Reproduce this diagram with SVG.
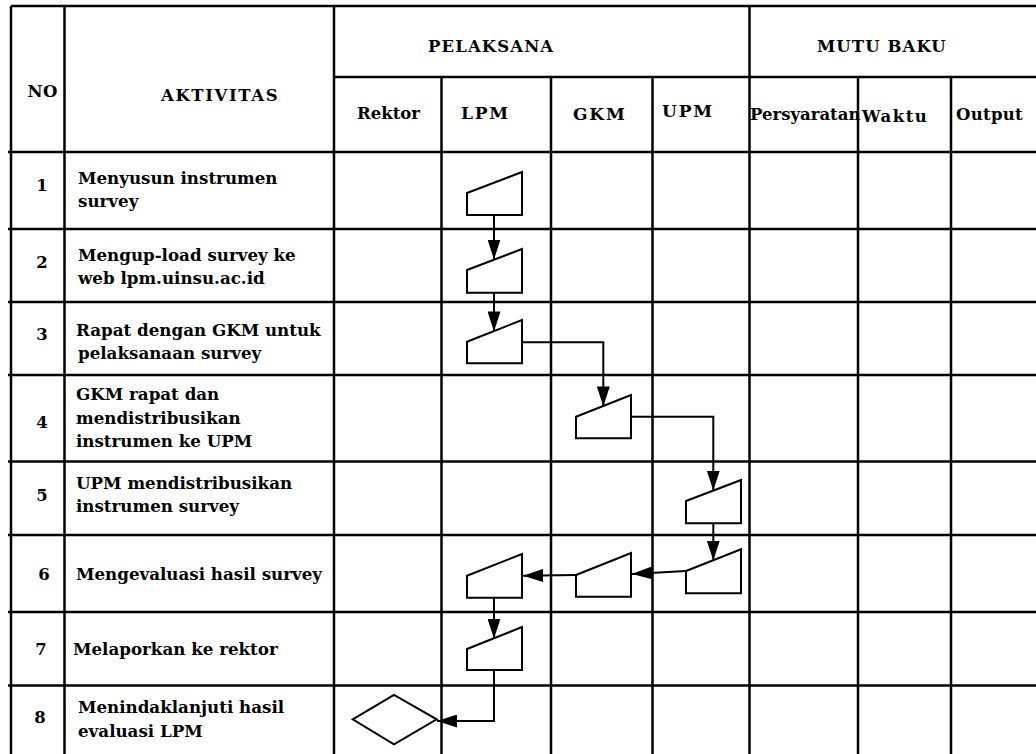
<svg xmlns="http://www.w3.org/2000/svg" width="1036" height="754" viewBox="0 0 1036 754">
<defs>
<marker id="ah" markerUnits="userSpaceOnUse" markerWidth="20" markerHeight="13" refX="20" refY="6.5" orient="auto" viewBox="0 0 20 13">
<path d="M0,0 L20,6.5 L0,13 Z" fill="#000"/>
</marker>
<style>
.g{stroke:#000;stroke-width:2.5;fill:none}
.s{stroke:#000;stroke-width:2;fill:#fff;stroke-linejoin:miter}
.c{stroke:#000;stroke-width:2;fill:none;marker-end:url(#ah)}
text{font-family:"DejaVu Serif","Liberation Serif",serif;font-weight:bold;fill:#000}
.h{font-size:16.5px}
.hl{font-size:17px;letter-spacing:1.8px}
.b{font-size:16.7px}
.n{font-size:16.5px;text-anchor:middle}
</style>
</defs>
<rect width="1036" height="754" fill="#fff"/>
<g id="grid" class="g">
<path d="M11,6 H1036"/>
<path d="M11,6 V754 M64.5,6 V754 M334,6 V754 M749.5,6 V754"/>
<path d="M334,77 H1036"/>
<path d="M441.5,77 V754 M551,77 V754 M652.5,77 V754 M858,77 V754 M951,77 V754"/>
<path d="M8,152 H1036 M8,229 H1036 M8,302 H1036 M8,375 H1036 M8,461.5 H1036 M8,535 H1036 M8,612 H1036 M8,685.5 H1036"/>
</g>
<g id="header">
<text class="h" x="27.5" y="97" letter-spacing="0.4">NO</text>
<text class="h" x="161" y="101" letter-spacing="1.6">AKTIVITAS</text>
<text class="h" x="428" y="52" letter-spacing="1.1">PELAKSANA</text>
<text class="h" x="817" y="52" letter-spacing="1.1">MUTU BAKU</text>
<text class="h" x="357" y="119">Rektor</text>
<text class="hl" x="461" y="119">LPM</text>
<text class="hl" x="573" y="120">GKM</text>
<text class="hl" x="662" y="117">UPM</text>
<text class="h" x="750" y="120">Persyaratan</text>
<text class="h" x="862" y="122" letter-spacing="1.5">Waktu</text>
<text class="h" x="956" y="120" letter-spacing="0.3">Output</text>
</g>
<g id="rows">
<text class="n" x="42" y="191">1</text>
<text class="b" x="78" y="184">Menyusun instrumen</text>
<text class="b" x="78" y="207">survey</text>
<text class="n" x="42" y="268">2</text>
<text class="b" x="78" y="261">Mengup-load survey ke</text>
<text class="b" x="78" y="284">web lpm.uinsu.ac.id</text>
<text class="n" x="42" y="340">3</text>
<text class="b" x="76" y="336">Rapat dengan GKM untuk</text>
<text class="b" x="78" y="359">pelaksanaan survey</text>
<text class="n" x="42" y="428">4</text>
<text class="b" x="76" y="400">GKM rapat dan</text>
<text class="b" x="76" y="424">mendistribusikan</text>
<text class="b" x="76" y="447">instrumen ke UPM</text>
<text class="n" x="42" y="501">5</text>
<text class="b" x="76" y="489">UPM mendistribusikan</text>
<text class="b" x="76" y="512">instrumen survey</text>
<text class="n" x="44" y="580">6</text>
<text class="b" x="76" y="580">Mengevaluasi hasil survey</text>
<text class="n" x="41" y="655">7</text>
<text class="b" x="73" y="655">Melaporkan ke rektor</text>
<text class="n" x="40" y="723">8</text>
<text class="b" x="78" y="713">Menindaklanjuti hasil</text>
<text class="b" x="78" y="737">evaluasi LPM</text>
</g>
<g id="connectors">
<path class="c" d="M494,215 V259.5"/>
<path class="c" d="M494,292.7 V331.4"/>
<path class="c" d="M522,342.3 H603.3 V406.4"/>
<path class="c" d="M631,416.7 H713.3 V490.6"/>
<path class="c" d="M713.3,523.3 V560.6"/>
<path class="c" d="M686,571 L632,574"/>
<path class="c" d="M576,575 L523,575.7"/>
<path class="c" d="M494,597.7 V638.7"/>
<path class="c" d="M494,670 V721 H437"/>
</g>
<g id="n1"><polygon class="s" points="467,193 522,172 522,215 467,215"/></g>
<g id="n2"><polygon class="s" points="467,270 522,249 522,292.7 467,292.7"/></g>
<g id="n3"><polygon class="s" points="467,341.7 522,320 522,363.3 467,363.3"/></g>
<g id="n4"><polygon class="s" points="576,416.7 631,395 631,438.3 576,438.3"/></g>
<g id="n5"><polygon class="s" points="686,501 741,480 741,523.3 686,523.3"/></g>
<g id="n6-upm"><polygon class="s" points="686,571 741,549.3 741,593.3 686,593.3"/></g>
<g id="n6-gkm"><polygon class="s" points="576,575 631,553 631,596.7 576,596.7"/></g>
<g id="n6-lpm"><polygon class="s" points="467,575.7 522,554 522,597.7 467,597.7"/></g>
<g id="n7"><polygon class="s" points="467,649 522,627 522,670 467,670"/></g>
<g id="n8"><polygon class="s" points="352.7,719.3 394,695 436.7,719.3 394,744.3"/></g>
</svg>
